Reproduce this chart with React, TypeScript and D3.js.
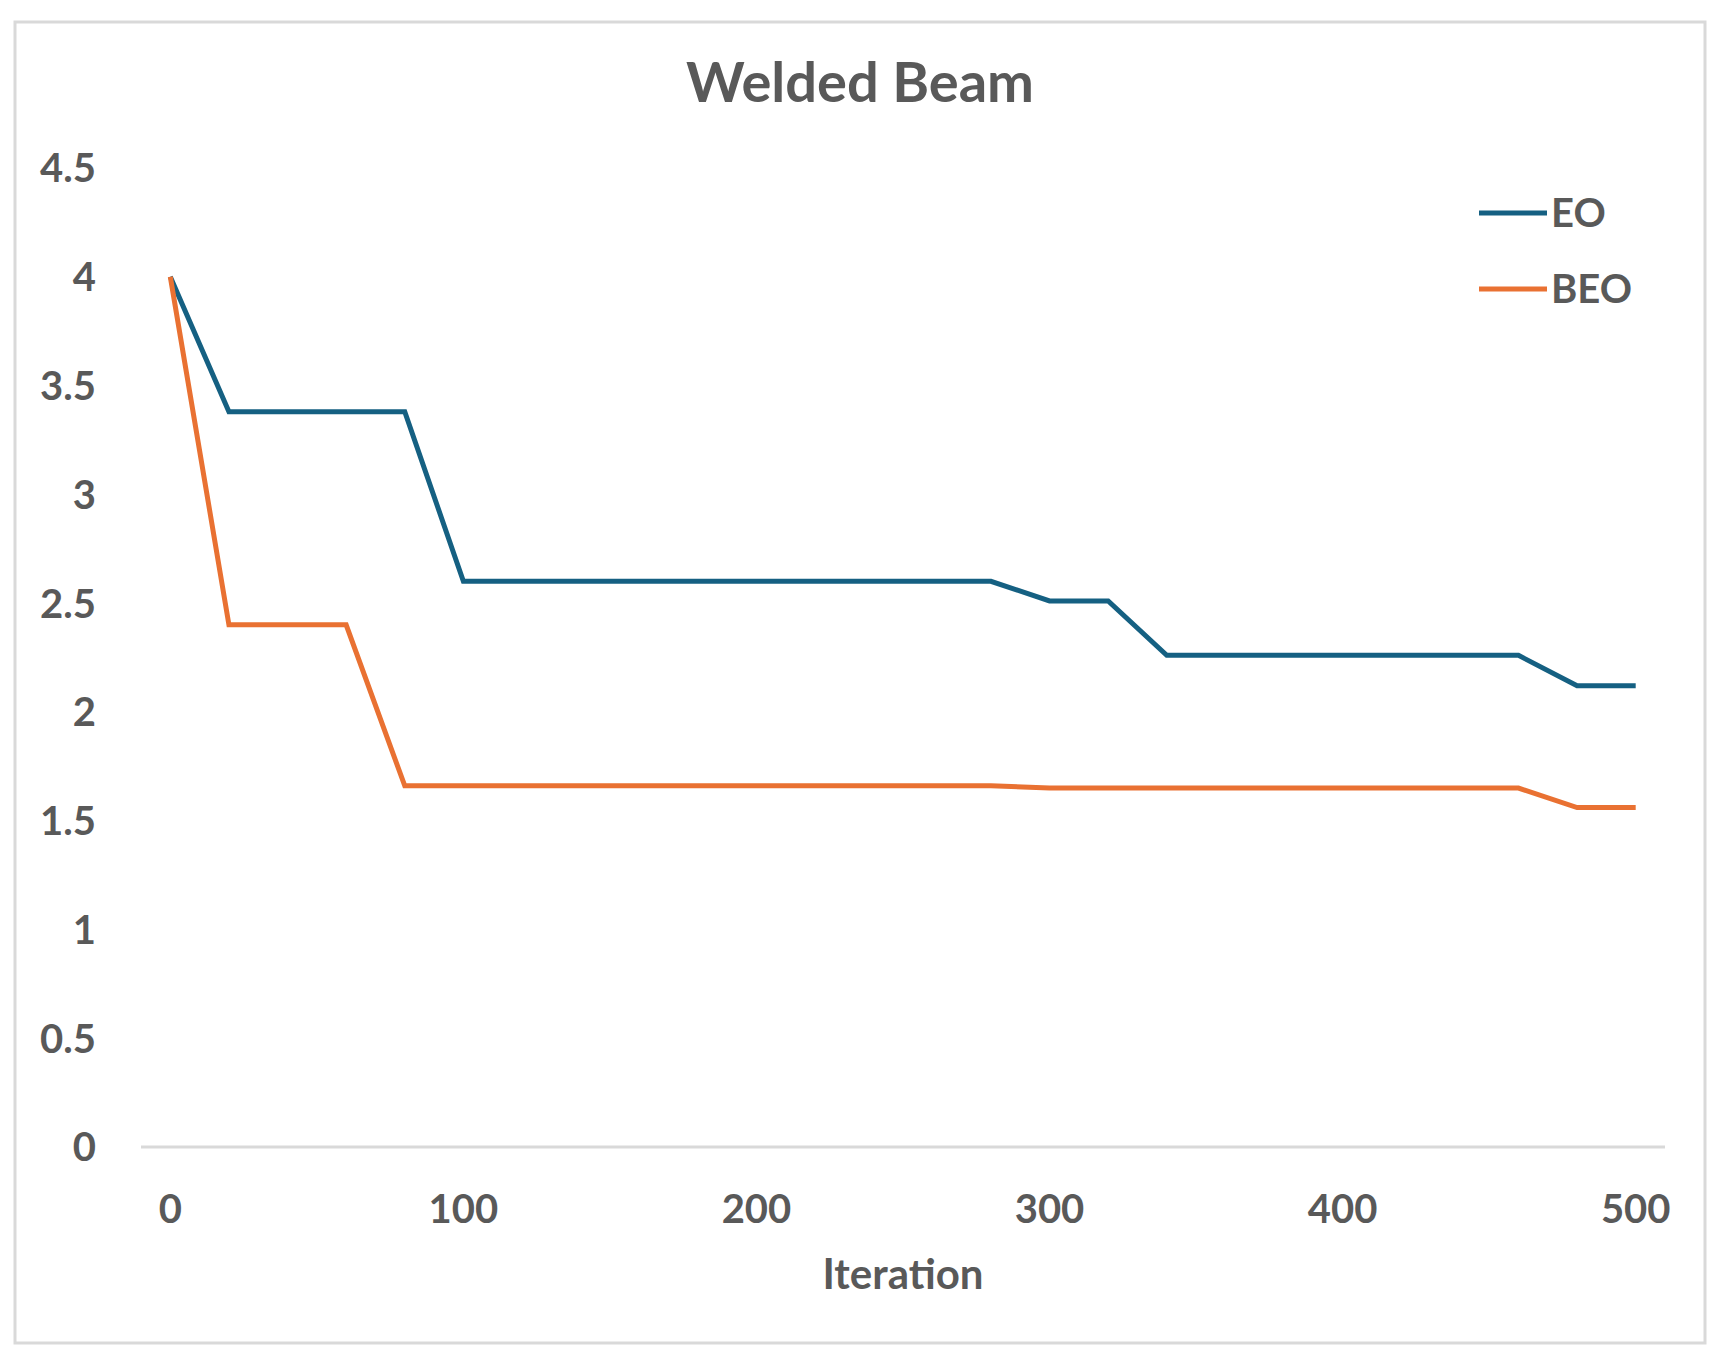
import React, { useEffect, useRef } from "react";
import * as d3 from "d3";

const iterations = [
  0, 20, 40, 60, 80, 100, 120, 140, 160, 180, 200, 220, 240, 260, 280, 300,
  320, 340, 360, 380, 400, 420, 440, 460, 480, 500
];
const eoValues = [
  4.0, 3.38, 3.38, 3.38, 3.38, 2.6, 2.6, 2.6, 2.6, 2.6, 2.6, 2.6, 2.6, 2.6,
  2.6, 2.51, 2.51, 2.26, 2.26, 2.26, 2.26, 2.26, 2.26, 2.26, 2.12, 2.12
];
const beoValues = [
  4.0, 2.4, 2.4, 2.4, 1.66, 1.66, 1.66, 1.66, 1.66, 1.66, 1.66, 1.66, 1.66,
  1.66, 1.66, 1.65, 1.65, 1.65, 1.65, 1.65, 1.65, 1.65, 1.65, 1.65, 1.56, 1.56
];
const xTickLabels = [0, 100, 200, 300, 400, 500];
const yTicks = [0, 0.5, 1, 1.5, 2, 2.5, 3, 3.5, 4, 4.5];
const seriesNames = ["EO", "BEO"];
const seriesColors = ["#156082", "#E97132"];

export default function App() {
  const ref = useRef<SVGSVGElement>(null);

  useEffect(() => {
    const W = 1723,
      H = 1359;
    const margin = { left: 141, right: 1665, top: 168, bottom: 1147 };
    const font = "Lato, 'Noto Sans', sans-serif";
    const textColor = "#595959";

    const svg = d3.select(ref.current);
    svg.selectAll("*").remove();
    svg.attr("width", W).attr("height", H);

    svg
      .append("rect")
      .attr("width", W)
      .attr("height", H)
      .attr("fill", "#ffffff");

    // chart border
    svg
      .append("rect")
      .attr("x", 15)
      .attr("y", 22)
      .attr("width", 1690)
      .attr("height", 1321)
      .attr("fill", "#ffffff")
      .attr("stroke", "#d9d9d9")
      .attr("stroke-width", 3);

    const x = d3
      .scalePoint<number>()
      .domain(iterations)
      .range([margin.left, margin.right])
      .padding(0.5);
    const y = d3
      .scaleLinear()
      .domain([0, 4.5])
      .range([margin.bottom, margin.top]);

    // title
    svg
      .append("text")
      .attr("x", 860)
      .attr("y", 102)
      .attr("text-anchor", "middle")
      .style("font-family", font)
      .style("font-weight", 700)
      .style("font-size", "56px")
      .style("fill", textColor)
      .text("Welded Beam");

    // zero line
    svg
      .append("line")
      .attr("x1", margin.left)
      .attr("x2", margin.right)
      .attr("y1", y(0))
      .attr("y2", y(0))
      .attr("stroke", "#d9d9d9")
      .attr("stroke-width", 3);

    // y tick labels
    svg
      .selectAll(".ytick")
      .data(yTicks)
      .enter()
      .append("text")
      .attr("class", "ytick")
      .attr("x", 96)
      .attr("y", d => y(d))
      .attr("dy", "0.36em")
      .attr("text-anchor", "end")
      .style("font-family", font)
      .style("font-weight", 700)
      .style("font-size", "40px")
      .style("fill", textColor)
      .text(d => String(d));

    // x tick labels
    svg
      .selectAll(".xtick")
      .data(xTickLabels)
      .enter()
      .append("text")
      .attr("class", "xtick")
      .attr("x", d => x(d) as number)
      .attr("y", 1223)
      .attr("text-anchor", "middle")
      .style("font-family", font)
      .style("font-weight", 700)
      .style("font-size", "40px")
      .style("fill", textColor)
      .text(d => String(d));

    // axis title
    svg
      .append("text")
      .attr("x", (margin.left + margin.right) / 2)
      .attr("y", 1289)
      .attr("text-anchor", "middle")
      .style("font-family", font)
      .style("font-weight", 700)
      .style("font-size", "42px")
      .style("fill", textColor)
      .text("Iteration");

    const line = d3
      .line<[number, number]>()
      .x(d => x(d[0]) as number)
      .y(d => y(d[1]));

    [eoValues, beoValues].forEach((vals, i) => {
      const pts = iterations.map((it, j) => [it, vals[j]] as [number, number]);
      svg
        .append("path")
        .datum(pts)
        .attr("fill", "none")
        .attr("stroke", seriesColors[i])
        .attr("stroke-width", 5)
        .attr("stroke-linejoin", "miter")
        .attr("d", line);
    });

    // legend
    seriesNames.forEach((name, i) => {
      const ly = 213 + i * 76;
      svg
        .append("line")
        .attr("x1", 1479)
        .attr("x2", 1547)
        .attr("y1", ly)
        .attr("y2", ly)
        .attr("stroke", seriesColors[i])
        .attr("stroke-width", 5);
      svg
        .append("text")
        .attr("x", 1551)
        .attr("y", ly)
        .attr("dy", "0.36em")
        .style("font-family", font)
        .style("font-weight", 700)
        .style("font-size", "40px")
        .style("fill", textColor)
        .text(name);
    });
  }, []);

  return (
    <svg
      ref={ref}
      style={{ position: "absolute", left: 0, top: 0, display: "block" }}
    />
  );
}
